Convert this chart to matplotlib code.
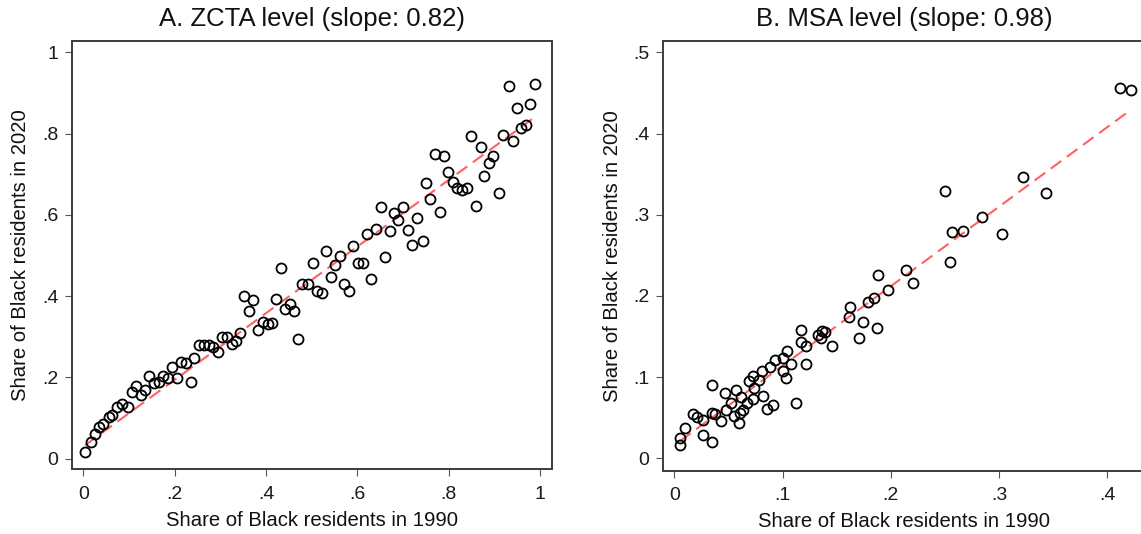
import matplotlib
matplotlib.use("Agg")
import matplotlib.pyplot as plt

# ---- Panel A: ZCTA level, binned shares (1990 vs 2020) ----
zcta_1990 = [0.004, 0.016, 0.026, 0.035, 0.044, 0.056, 0.064, 0.074, 0.085, 0.097,
             0.106, 0.115, 0.126, 0.136, 0.145, 0.155, 0.165, 0.175, 0.185, 0.194,
             0.205, 0.213, 0.225, 0.235, 0.243, 0.254, 0.265, 0.275, 0.285, 0.294,
             0.304, 0.314, 0.325, 0.334, 0.343, 0.353, 0.363, 0.372, 0.383, 0.394,
             0.405, 0.414, 0.422, 0.432, 0.442, 0.453, 0.462, 0.471, 0.480, 0.493,
             0.502, 0.511, 0.522, 0.531, 0.542, 0.551, 0.562, 0.571, 0.582, 0.591,
             0.601, 0.612, 0.621, 0.631, 0.642, 0.651, 0.661, 0.672, 0.680, 0.690,
             0.699, 0.710, 0.719, 0.730, 0.744, 0.750, 0.759, 0.770, 0.780, 0.790,
             0.798, 0.810, 0.819, 0.829, 0.840, 0.850, 0.860, 0.870, 0.877, 0.889,
             0.898, 0.911, 0.918, 0.933, 0.940, 0.949, 0.958, 0.969, 0.978, 0.988]
zcta_2020 = [0.017, 0.042, 0.061, 0.077, 0.085, 0.103, 0.108, 0.128, 0.135, 0.128,
             0.165, 0.179, 0.157, 0.169, 0.204, 0.187, 0.188, 0.204, 0.198, 0.226,
             0.199, 0.239, 0.235, 0.189, 0.247, 0.281, 0.281, 0.280, 0.274, 0.263,
             0.300, 0.299, 0.282, 0.290, 0.310, 0.400, 0.364, 0.391, 0.318, 0.337,
             0.331, 0.333, 0.393, 0.470, 0.368, 0.382, 0.363, 0.294, 0.429, 0.430,
             0.481, 0.413, 0.408, 0.512, 0.446, 0.477, 0.499, 0.429, 0.413, 0.523,
             0.481, 0.481, 0.553, 0.442, 0.565, 0.620, 0.497, 0.560, 0.604, 0.587,
             0.620, 0.564, 0.526, 0.592, 0.537, 0.679, 0.638, 0.750, 0.608, 0.746,
             0.706, 0.682, 0.667, 0.661, 0.667, 0.795, 0.622, 0.768, 0.696, 0.727,
             0.745, 0.653, 0.797, 0.918, 0.782, 0.862, 0.815, 0.821, 0.873, 0.922]

# ---- Panel B: MSA level ----
msa_1990 = [0.0053, 0.0053, 0.0099, 0.0268, 0.0346, 0.0176, 0.0207, 0.0262, 0.0346, 0.0376,
            0.0346, 0.0429, 0.0469, 0.0478, 0.0521, 0.0570, 0.0552, 0.0607, 0.0598, 0.0638,
            0.0616, 0.0669, 0.0693, 0.0724, 0.0737, 0.0783, 0.0808, 0.0730, 0.0823, 0.0860,
            0.0915, 0.0884, 0.0931, 0.1002, 0.1044, 0.1002, 0.1030, 0.1076, 0.1122, 0.1171,
            0.1168, 0.1214, 0.1217, 0.1331, 0.1362, 0.1393, 0.1353, 0.1455, 0.1617, 0.1624,
            0.1707, 0.1747, 0.1793, 0.1846, 0.1876, 0.1978, 0.2209, 0.1885, 0.2139, 0.2542,
            0.2564, 0.2662, 0.2502, 0.2841, 0.3026, 0.3220, 0.3435, 0.4119, 0.4221]
msa_2020 = [0.0164, 0.0246, 0.0369, 0.0287, 0.0204, 0.0546, 0.0512, 0.0472, 0.0554, 0.0546,
            0.0903, 0.0463, 0.0800, 0.0595, 0.0685, 0.0841, 0.0521, 0.0554, 0.0431, 0.0595,
            0.0751, 0.0677, 0.0956, 0.1013, 0.0862, 0.0964, 0.1079, 0.0730, 0.0767, 0.0607,
            0.0656, 0.1121, 0.1211, 0.1239, 0.1321, 0.1079, 0.0985, 0.1161, 0.0677, 0.1580,
            0.1436, 0.1387, 0.1158, 0.1518, 0.1571, 0.1559, 0.1478, 0.1387, 0.1736, 0.1867,
            0.1485, 0.1682, 0.1929, 0.1970, 0.1601, 0.2073, 0.2163, 0.2257, 0.2319, 0.2414,
            0.2791, 0.2803, 0.3296, 0.2975, 0.2759, 0.3468, 0.3271, 0.4564, 0.4536]

# Fitted lines (slope reported in titles)
slope_zcta, intercept_zcta = 0.82, 0.030
slope_msa, intercept_msa = 0.98, 0.016

x_title = "Share of Black residents in 1990"
y_title = "Share of Black residents in 2020"

ticks_a = [0, 0.2, 0.4, 0.6, 0.8, 1.0]
tick_labels_a = ["0", ".2", ".4", ".6", ".8", "1"]
ticks_b_x = [0, 0.1, 0.2, 0.3, 0.4]
tick_labels_b_x = ["0", ".1", ".2", ".3", ".4"]
ticks_b_y = [0, 0.1, 0.2, 0.3, 0.4, 0.5]
tick_labels_b_y = ["0", ".1", ".2", ".3", ".4", ".5"]

plt.rcParams["font.family"] = ["Liberation Sans", "DejaVu Sans"]

W, H = 1141, 534
fig = plt.figure(figsize=(W / 100, H / 100), dpi=100)

SPINE = "#3c3c3c"
FIT = "#ff5050"


def panel(rect, xs, ys, slope, intercept, title, xlim, ylim,
          xticks, xticklabels, yticks, yticklabels, ylab_x):
    ax = fig.add_axes(rect)
    ax.plot(xs, ys, linestyle="none", marker="o", markersize=7.2,
            markerfacecolor="none", markeredgecolor="black",
            markeredgewidth=1.3, zorder=3)
    x0, x1 = min(xs), max(xs)
    ax.plot([x0, x1], [intercept + slope * x0, intercept + slope * x1],
            color=FIT, linewidth=1.5, dashes=(6.3, 3.3), alpha=0.9, zorder=2)
    ax.set_xlim(*xlim)
    ax.set_ylim(*ylim)
    ax.set_xticks(xticks)
    ax.set_xticklabels(xticklabels)
    ax.set_yticks(yticks)
    ax.set_yticklabels(yticklabels)
    ax.tick_params(axis="both", direction="out", length=5, width=0.8,
                   color="#555555", labelsize=14, labelcolor="#1a1a1a")
    ax.tick_params(axis="x", pad=7)
    ax.tick_params(axis="y", pad=5)
    for s in ax.spines.values():
        s.set_color(SPINE)
        s.set_linewidth(1.4)
    ax.text(0.5, 1 + 22 / (rect[3] * H), title, transform=ax.transAxes,
            ha="center", va="center", fontsize=18.5, color="#111111")
    ax.text(0.5, -51 / (rect[3] * H), x_title, transform=ax.transAxes,
            ha="center", va="center", fontsize=14.6, color="#111111")
    ax.text(ylab_x, 0.5, y_title, transform=ax.transAxes, rotation=90,
            ha="center", va="center", fontsize=14.6, color="#111111")
    return ax


panel([72.3 / W, 64.7 / H, 479.4 / W, 428.3 / H], zcta_1990, zcta_2020,
      slope_zcta, intercept_zcta,
      "A. ZCTA level (slope: {:.2f})".format(slope_zcta),
      (-0.024, 1.0256), (-0.026, 1.028),
      ticks_a, tick_labels_a, ticks_a, tick_labels_a, -52 / 479.4)

panel([663.3 / W, 63.3 / H, 481.2 / W, 429.7 / H], msa_1990, msa_2020,
      slope_msa, intercept_msa,
      "B. MSA level (slope: {:.2f})".format(slope_msa),
      (-0.0102, 0.4343), (-0.0153, 0.514),
      ticks_b_x, tick_labels_b_x, ticks_b_y, tick_labels_b_y, -51 / 481.2)

fig.savefig("out.png", dpi=100, facecolor="white")
